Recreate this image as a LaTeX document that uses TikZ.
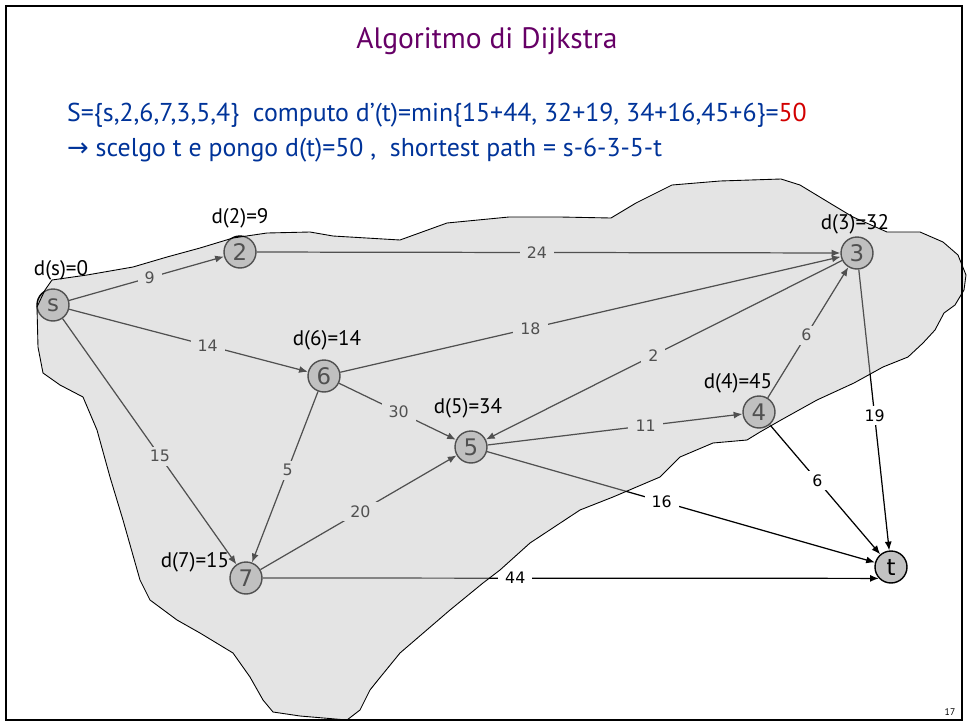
\documentclass[tikz,border=0pt]{standalone}
\usepackage{fontspec}
\setmainfont{PT Sans}
\newfontfamily\numfont{DejaVu Sans}
\usetikzlibrary{arrows.meta}
\definecolor{titlepurple}{RGB}{102,0,102}
\definecolor{textblue}{RGB}{0,51,153}
\definecolor{textred}{RGB}{210,0,0}
\begin{document}
\begin{tikzpicture}[x=0.02cm,y=-0.02cm,
    vertex/.style={draw,circle,fill=black!24,line width=0.8pt,minimum size=0.64cm,inner sep=0pt,
      font=\numfont\fontsize{13}{13}\selectfont},
    link/.style={-{Latex[length=5pt,width=4pt]},line width=0.7pt},
    weight/.style={fill=white,inner xsep=4pt,inner ysep=2pt,font=\numfont\fontsize{9}{9}\selectfont},
    dist/.style={font=\fontsize{12}{13}\selectfont},
    blob/.style={fill=black!25,fill opacity=0.42,draw=black,line width=0.5pt}]
  \useasboundingbox (0,0) rectangle (968,724);

  \def \Nodes {
    s/53/305,
    2/240/252,
    3/857/253,
    6/324/376,
    5/471/447,
    4/759/412,
    7/246/578,
    t/891/567}
  \def \Edges {
    s/2/9/0.52,
    2/3/24/0.48,
    s/6/14/0.58,
    s/7/15/0.56,
    6/3/18/0.38,
    3/5/2/0.53,
    4/3/6/0.48,
    6/5/30/0.51,
    6/7/5/0.46,
    7/5/20/0.51,
    5/4/11/0.62,
    3/t/19/0.52,
    4/t/6/0.43,
    5/t/16/0.45}

  % graph first, the set S is laid over it
  \foreach \id / \x / \y in \Nodes {
    \node[vertex] (\id) at (\x, \y) {\id};
  }
  \foreach \a / \b / \w / \p in \Edges {
    \draw[link] (\a) -- node[weight,pos=\p] {\w} (\b);
  }
  \draw[link] (7) -- node[weight,pos=0.41] {44} (t.223);

  % region S
  \draw[blob] (45,290) -- (52,280) -- (87,275) -- (133,267) -- (167,257) -- (200,248)
    -- (233,238) -- (267,233) -- (310,232) -- (333,236) -- (400,240) -- (447,223)
    -- (509,217) -- (560,217) -- (611,218) -- (636,203) -- (672,185) -- (720,181)
    -- (781,179) -- (800,185) -- (833,205) -- (853,217) -- (887,232) -- (920,232)
    -- (943,242) -- (958,255) -- (966,275) -- (964,290) -- (955,305) -- (944,313)
    -- (935,330) -- (923,343) -- (908,357) -- (883,367) -- (854,383) -- (817,400)
    -- (781,420) -- (760,432) -- (747,440) -- (713,443) -- (680,457) -- (660,477)
    -- (613,497) -- (580,510) -- (530,543) -- (500,570) -- (483,583) -- (450,610)
    -- (400,653) -- (378,680) -- (370,690) -- (360,710) -- (347,720) -- (300,716)
    -- (273,712) -- (263,700) -- (250,677) -- (233,653) -- (200,633) -- (177,620)
    -- (150,600) -- (140,580) -- (123,520) -- (110,477) -- (97,430) -- (83,397)
    -- (60,385) -- (43,373) -- (38,347) -- (37,307) -- cycle;

  % distances
  \node[dist] (ds) at (61,270) {d(s)=0};
  \node[dist] (d2) at (240,218) {d(2)=9};
  \node[dist] (d3) at (855,224) {d(3)=32};
  \node[dist] (d6) at (327,340) {d(6)=14};
  \node[dist] (d5) at (468,408) {d(5)=34};
  \node[dist] (d4) at (738,383) {d(4)=45};
  \node[dist] (d7) at (195,562) {d(7)=15};

  % slide text
  \node[text=titlepurple,font=\fontsize{16.8}{19}\selectfont] (title) at (487,41) {Algoritmo di Dijkstra};
  \node[anchor=west,text=textblue,font=\fontsize{14.7}{17}\selectfont] (step) at (61,115)
    {S=\{s,2,6,7,3,5,4\}\ \ computo d’(t)=min\{15+44, 32+19, 34+16,45+6\}=\textcolor{textred}{50}};
  \node[anchor=west,text=textblue,font=\fontsize{14.7}{17}\selectfont] (choice) at (61,150)
    {{\numfont →} scelgo t e pongo d(t)=50 ,\ \ shortest path = s-6-3-5-t};
  \node[font=\fontsize{5.5}{6}\selectfont] (page) at (950,712) {17};

  \draw[line width=1.4pt] (6,6) rectangle (962,720);
\end{tikzpicture}
\end{document}
